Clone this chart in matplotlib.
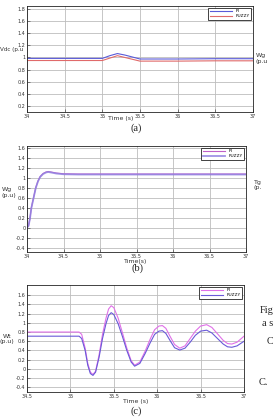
import matplotlib
matplotlib.use("Agg")
import matplotlib.pyplot as plt

# (a) DC-link voltage
t_a = [34.0, 35.0, 35.1, 35.2, 35.3, 35.5, 36.0, 36.5, 36.6, 37.0]
vdc_pi = [0.985, 0.985, 1.03, 1.065, 1.04, 0.975, 0.975, 0.98, 0.98, 0.98]
vdc_fuzzy = [0.95, 0.95, 0.99, 1.03, 1.0, 0.94, 0.94, 0.945, 0.945, 0.945]

# (b) generator speed
t_b = [34.0, 34.02, 34.04, 34.06, 34.09, 34.12, 34.15, 34.18, 34.22, 34.26,
       34.29, 34.33, 34.4, 34.5, 34.7, 37.0]
wg_pi = [0.0, 0.03, 0.18, 0.4, 0.6, 0.8, 0.93, 1.02, 1.08, 1.11,
         1.12, 1.11, 1.09, 1.075, 1.07, 1.07]
wg_fuzzy = [0.0, 0.03, 0.17, 0.39, 0.59, 0.79, 0.92, 1.01, 1.07, 1.1,
            1.11, 1.1, 1.08, 1.065, 1.06, 1.06]

# (c) turbine speed
t_c = [34.5, 35.1, 35.13, 35.17, 35.2, 35.23, 35.26, 35.29, 35.33, 35.37,
       35.41, 35.44, 35.47, 35.5, 35.55, 35.6, 35.65, 35.7, 35.74, 35.8,
       35.86, 35.92, 35.97, 36.02, 36.06, 36.1, 36.15, 36.2, 36.26, 36.32,
       36.38, 36.44, 36.5, 36.57, 36.63, 36.7, 36.76, 36.81, 36.86, 36.92, 37.0]
wt_pi = [0.8, 0.8, 0.75, 0.45, 0.12, -0.07, -0.12, -0.05, 0.3, 0.75,
         1.1, 1.3, 1.37, 1.33, 1.1, 0.78, 0.45, 0.18, 0.08, 0.15,
         0.38, 0.65, 0.85, 0.93, 0.94, 0.88, 0.7, 0.53, 0.45, 0.5,
         0.66, 0.82, 0.93, 0.96, 0.9, 0.75, 0.62, 0.55, 0.54, 0.58, 0.71]
wt_fuzzy = [0.71, 0.71, 0.66, 0.4, 0.08, -0.1, -0.14, -0.07, 0.25, 0.66,
            0.98, 1.16, 1.22, 1.18, 0.98, 0.7, 0.4, 0.15, 0.06, 0.12,
            0.33, 0.57, 0.75, 0.82, 0.83, 0.77, 0.61, 0.46, 0.41, 0.45,
            0.58, 0.73, 0.82, 0.84, 0.78, 0.65, 0.54, 0.48, 0.47, 0.5, 0.6]

W, H = 273, 419
fig = plt.figure(figsize=(W / 100, H / 100), dpi=100)
fig.patch.set_facecolor("white")

def box(l, t, r, b):
	return [l / W, 1 - b / H, (r - l) / W, (b - t) / H]

def style(ax, xt, yt, xlim, ylim):
	ax.set_xlim(xlim)
	ax.set_ylim(ylim)
	ax.set_xticks(xt)
	ax.set_yticks(yt)
	ax.set_xticklabels([("%g" % v) for v in xt])
	ax.set_yticklabels([("%g" % v) for v in yt])
	ax.tick_params(direction="in", length=2, width=0.4, labelsize=3.5, pad=1.2, colors="#333333")
	ax.grid(True, color="#bdbdbd", linewidth=0.6)
	for s in ax.spines.values():
		s.set_linewidth(0.6)
		s.set_color("#222222")

def legend(ax):
	leg = ax.legend(["PI", "FUZZY"], loc="upper right", fontsize=3.2, frameon=True,
		fancybox=False, edgecolor="#222222", handlelength=5, borderpad=0.35,
		labelspacing=0.25, borderaxespad=0.35, framealpha=1)
	leg.get_frame().set_linewidth(0.6)

# (a)
ax1 = fig.add_axes(box(27, 6, 253, 112))
ax1.plot(t_a, vdc_pi, color="#5a5ad8", lw=0.8)
ax1.plot(t_a, vdc_fuzzy, color="#e06a6a", lw=0.8)
style(ax1, [34, 34.5, 35, 35.5, 36, 36.5, 37], [0.2, 0.4, 0.6, 0.8, 1, 1.2, 1.4, 1.6, 1.8], (34, 37), (0.1, 1.85))
legend(ax1)

# (b)
ax2 = fig.add_axes(box(27, 146, 246, 252))
ax2.plot(t_b, wg_pi, color="#c060c8", lw=0.8)
ax2.plot(t_b, wg_fuzzy, color="#9080e0", lw=1.3, alpha=0.85)
style(ax2, [34, 34.5, 35, 35.5, 36, 36.5, 37], [-0.4, -0.2, 0, 0.2, 0.4, 0.6, 0.8, 1, 1.2, 1.4, 1.6], (34, 37), (-0.49, 1.63))
legend(ax2)

# (c)
ax3 = fig.add_axes(box(27, 285, 244, 392))
ax3.plot(t_c, wt_pi, color="#e070e8", lw=0.8)
ax3.plot(t_c, wt_fuzzy, color="#6a5ad8", lw=0.8)
style(ax3, [34.5, 35, 35.5, 36, 36.5, 37], [-0.4, -0.2, 0, 0.2, 0.4, 0.6, 0.8, 1, 1.2, 1.4, 1.6], (34.5, 37), (-0.5, 1.82))
legend(ax3)

def ftext(x, y, s, **kw):
	fig.text(x / W, 1 - y / H, s, **kw)

sans = dict(fontsize=4.5, color="#333333", va="center")
serif = dict(fontsize=7.5, family="Liberation Serif", color="#222222", va="center")

# axis titles
ftext(121, 118, "Time (s)", ha="center", **sans)
ftext(136, 261, "Time(s)", ha="center", **sans)
ftext(136, 401, "Time (s)", ha="center", **sans)
ftext(0, 49.5, "Vdc (p.u", ha="left", fontsize=4.1, color="#333333", va="center")
ftext(2, 189, "Wg", ha="left", **sans)
ftext(2, 195, "(p.u)", ha="left", **sans)
ftext(3, 336, "Wt", ha="left", **sans)
ftext(0, 341, "(p.u)", ha="left", **sans)

# cropped neighbour text on the right
ftext(256, 55, "Wg", ha="left", **sans)
ftext(256, 61, "(p.u", ha="left", **sans)
ftext(254, 182, "Tg", ha="left", **sans)
ftext(254, 187, "(p.", ha="left", **sans)
ftext(260, 310, "Fig", ha="left", **serif)
ftext(262, 324, "a s", ha="left", **serif)
ftext(267, 341, "C", ha="left", **serif)
ftext(259, 382, "C.", ha="left", **serif)

# captions
ftext(136, 128, "(a)", ha="center", **serif)
ftext(137, 268, "(b)", ha="center", **serif)
ftext(136, 411, "(c)", ha="center", **serif)

fig.savefig("out.png", dpi=100)
